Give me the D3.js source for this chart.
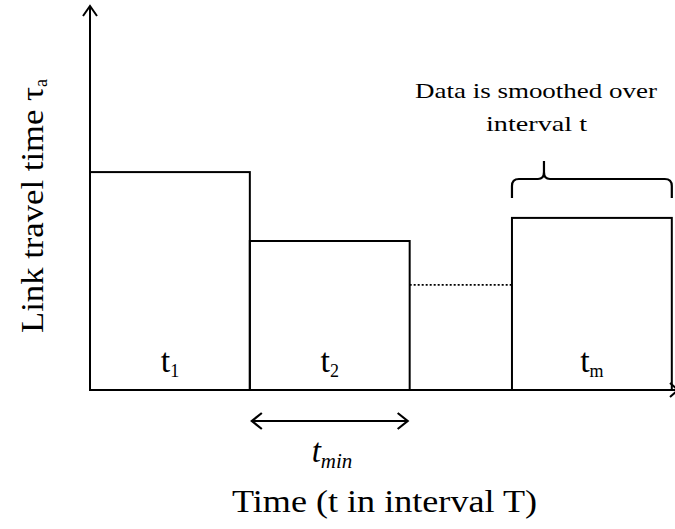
<!DOCTYPE html>
<html><head><meta charset="utf-8">
<script src="https://cdnjs.cloudflare.com/ajax/libs/d3/7.8.5/d3.min.js"></script>
<style>body{margin:0;background:#fff}svg{display:block}text{font-family:"Liberation Serif","DejaVu Serif",serif;fill:#000}</style>
</head><body>
<script>
// Data
const categories = ["t1", "t2", "tm"];
const subs = ["1", "2", "m"];
const intervalStart = [0, 1, 2.64];
const intervalEnd = [1, 2, 3.64];
const travelTime = [56.6, 38.7, 44.7];
const gapLevel = [27.3];
const gapFrom = [2];
const gapTo = [2.64];

const W = 675, H = 529;
const svg = d3.select("body").append("svg").attr("width", W).attr("height", H);
const x = d3.scaleLinear().domain([0, 3.66]).range([90, 675]);
const y = d3.scaleLinear().domain([0, 100]).range([390, 5]);

// bars
svg.selectAll("rect.bar").data(categories).enter().append("rect")
  .attr("x", (d,i) => x(intervalStart[i]))
  .attr("y", (d,i) => y(travelTime[i]))
  .attr("width", (d,i) => x(intervalEnd[i]) - x(intervalStart[i]))
  .attr("height", (d,i) => y(0) - y(travelTime[i]))
  .attr("fill", "none").attr("stroke", "#000").attr("stroke-width", 2);

// dotted gap line
svg.append("line").attr("x1", x(gapFrom[0])).attr("x2", x(gapTo[0]))
  .attr("y1", y(gapLevel[0])).attr("y2", y(gapLevel[0]))
  .attr("stroke", "#000").attr("stroke-width", 1.6).attr("stroke-dasharray", "2,2");

// axes
svg.append("line").attr("x1", x(0)).attr("x2", x(0)).attr("y1", y(0)+1).attr("y2", 6)
  .attr("stroke", "#000").attr("stroke-width", 2);
svg.append("path").attr("d", `M${x(0)-7},16 L${x(0)},6 L${x(0)+7},16`)
  .attr("fill", "none").attr("stroke", "#000").attr("stroke-width", 2);
svg.append("line").attr("x1", x(0)-1).attr("x2", 678).attr("y1", y(0)).attr("y2", y(0))
  .attr("stroke", "#000").attr("stroke-width", 2);
svg.append("path").attr("d", `M670,${y(0)-7} L678,${y(0)} L670,${y(0)+7}`)
  .attr("fill", "none").attr("stroke", "#000").attr("stroke-width", 2);

// bar labels
categories.forEach((c, i) => {
  const t = svg.append("text").attr("x", (x(intervalStart[i]) + x(intervalEnd[i]))/2)
    .attr("y", 372).attr("text-anchor", "middle").attr("font-size", 34);
  t.append("tspan").text("t");
  t.append("tspan").attr("font-size", 18).attr("dy", 5).text(subs[i]);
});

// brace over last interval
const bx0 = x(intervalStart[2]), bx1 = x(intervalEnd[2]), bm = bx0 + 32;
svg.append("path")
  .attr("d", `M${bx0},198 L${bx0},186 Q${bx0},179 ${bx0+7},179 L${bm-6},179 Q${bm},179 ${bm},172 L${bm},161 M${bm},172 Q${bm},179 ${bm+6},179 L${bx1-7},179 Q${bx1},179 ${bx1},186 L${bx1},198`)
  .attr("fill", "none").attr("stroke", "#000").attr("stroke-width", 2.2);

svg.append("text").attr("x", 415).attr("y", 98).attr("font-size", 22)
  .attr("textLength", 242).attr("lengthAdjust", "spacingAndGlyphs").text("Data is smoothed over");
svg.append("text").attr("x", 486).attr("y", 131).attr("font-size", 22)
  .attr("textLength", 101).attr("lengthAdjust", "spacingAndGlyphs").text("interval t");

// t_min arrow
const ay = 421;
svg.append("line").attr("x1", x(1)+2).attr("x2", x(2)-2).attr("y1", ay).attr("y2", ay).attr("stroke", "#000").attr("stroke-width", 2);
svg.append("path").attr("d", `M${x(1)+12},${ay-8} L${x(1)+2},${ay} L${x(1)+12},${ay+8} M${x(2)-12},${ay-8} L${x(2)-2},${ay} L${x(2)-12},${ay+8}`)
  .attr("fill", "none").attr("stroke", "#000").attr("stroke-width", 2.2);
const tm = svg.append("text").attr("x", 332).attr("y", 462).attr("text-anchor", "middle").attr("font-style", "italic").attr("font-size", 33);
tm.append("tspan").text("t");
tm.append("tspan").attr("font-size", 21).attr("dy", 6).text("min");

// axis titles
svg.append("text").attr("x", 232).attr("y", 512).attr("font-size", 31)
  .attr("textLength", 305).attr("lengthAdjust", "spacingAndGlyphs").text("Time (t in interval T)");
const yl = svg.append("text").attr("transform", "translate(43,333) rotate(-90)").attr("font-size", 31);
yl.append("tspan").attr("textLength", 246).attr("lengthAdjust", "spacingAndGlyphs").text("Link travel time τ");
yl.append("tspan").attr("font-size", 18).attr("dy", 4).text("a");
</script>
</body></html>
